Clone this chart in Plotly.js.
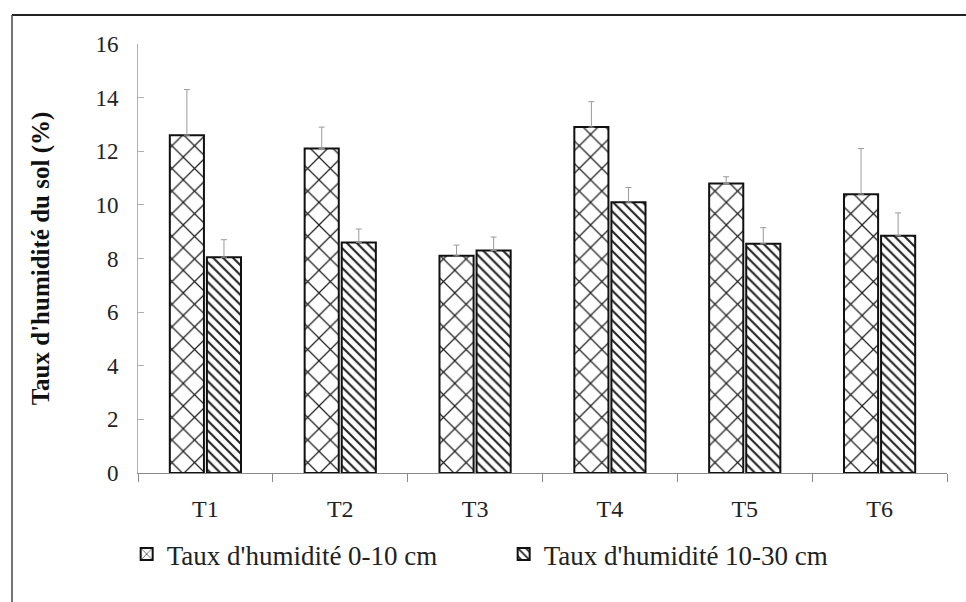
<!DOCTYPE html>
<html>
<head>
<meta charset="utf-8">
<script src="https://cdn.plot.ly/plotly-3.0.1.min.js"></script>
<style>
html,body{margin:0;padding:0;background:#fff;}
#chart{width:966px;height:602px;}
</style>
</head>
<body>
<div id="chart"></div>
<script>
const categories = ["T1", "T2", "T3", "T4", "T5", "T6"];
const humid0_10 = [12.6, 12.1, 8.1, 12.9, 10.8, 10.4];
const err0_10 = [1.7, 0.8, 0.4, 0.95, 0.25, 1.7];
const humid10_30 = [8.05, 8.6, 8.3, 10.1, 8.55, 8.85];
const err10_30 = [0.65, 0.5, 0.5, 0.55, 0.6, 0.85];
const seriesNames = ["Taux d'humidité 0-10 cm", "Taux d'humidité 10-30 cm"];
const yTicks = [0, 2, 4, 6, 8, 10, 12, 14, 16];

const serif = "'Liberation Serif', 'Times New Roman', serif";

const traces = [
  {
    type: "bar",
    name: seriesNames[0],
    x: categories,
    y: humid0_10,
    error_y: {type: "data", array: err0_10, symmetric: false, arrayminus: err0_10.map(() => 0), color: "#9a9a9a", thickness: 1, width: 3},
    marker: {
      color: "#ffffff",
      line: {color: "#111", width: 2},
      pattern: {shape: "x", fgcolor: "#222", bgcolor: "#fff", size: 16, solidity: 0.15}
    }
  },
  {
    type: "bar",
    name: seriesNames[1],
    x: categories,
    y: humid10_30,
    error_y: {type: "data", array: err10_30, symmetric: false, arrayminus: err10_30.map(() => 0), color: "#9a9a9a", thickness: 1, width: 3},
    marker: {
      color: "#ffffff",
      line: {color: "#111", width: 2},
      pattern: {shape: "\\", fgcolor: "#222", bgcolor: "#fff", size: 7, solidity: 0.3}
    }
  }
];

const layout = {
  width: 966,
  height: 602,
  margin: {l: 138, r: 19, t: 44, b: 129, autoexpand: false},
  paper_bgcolor: "#fff",
  plot_bgcolor: "#fff",
  barmode: "group",
  bargap: 0.45,
  bargroupgap: 0.08,
  font: {family: serif, color: "#222", size: 23},
  showlegend: true,
  legend: {
    orientation: "h",
    x: -0.014, xanchor: "left",
    y: -0.19, yanchor: "middle",
    font: {family: serif, size: 27, color: "#222"},
    traceorder: "normal",
    itemwidth: 30,
    entrywidth: 332
  },
  xaxis: {
    type: "category",
    showline: true,
    linecolor: "#8a8a8a",
    linewidth: 1,
    ticks: "outside",
    tickson: "boundaries",
    ticklen: 8,
    tickcolor: "#8a8a8a",
    showgrid: false,
    zeroline: false,
    tickfont: {family: serif, size: 24, color: "#222"},
    ticklabelstandoff: 14
  },
  yaxis: {
    range: [0, 16],
    tickvals: yTicks,
    ticktext: yTicks.map(String),
    showline: true,
    linecolor: "#b0b0b0",
    linewidth: 1,
    ticks: "inside",
    ticklen: 6,
    tickcolor: "#b0b0b0",
    showgrid: false,
    zeroline: false,
    tickfont: {family: serif, size: 23, color: "#222"},
    ticklabelstandoff: 14,
    title: {
      text: "<b>Taux d'humidité du sol (%)</b>",
      font: {family: serif, size: 25, color: "#111"},
      standoff: 38
    }
  },
  shapes: [
    {type: "line", xref: "paper", yref: "paper",
     x0: (12 - 138) / 809, x1: (966 - 138) / 809,
     y0: (473 - 15) / 429, y1: (473 - 15) / 429,
     line: {color: "#222", width: 2}},
    {type: "line", xref: "paper", yref: "paper",
     x0: (12 - 138) / 809, x1: (12 - 138) / 809,
     y0: (473 - 15) / 429, y1: (473 - 602) / 429,
     line: {color: "#444", width: 1.5}}
  ]
};

Plotly.newPlot("chart", traces, layout, {staticPlot: true, displayModeBar: false});
</script>
</body>
</html>
